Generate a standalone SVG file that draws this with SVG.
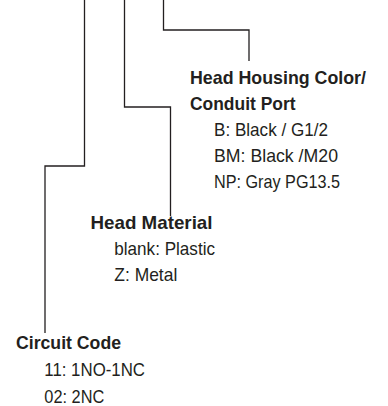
<svg xmlns="http://www.w3.org/2000/svg" width="388" height="406" viewBox="0 0 388 406">
<style>
text{font-family:"Liberation Sans",Arial,sans-serif;font-size:19px;fill:#231f20}
.h{font-weight:bold}
.c{fill:none;stroke:#231f20;stroke-width:1.3}
</style>
<rect width="388" height="406" fill="#fff"/>
<g id="connectors">
<path class="c" d="M163.5 0V30H249V61"/>
<path class="c" d="M124.5 0V107H170.5V216"/>
<path class="c" d="M84.5 0V166H45V333"/>
</g>
<g id="head-housing">
<text class="h" x="190" y="84" textLength="176" lengthAdjust="spacingAndGlyphs">Head Housing Color/</text>
<text class="h" x="190" y="110" textLength="105.5" lengthAdjust="spacingAndGlyphs">Conduit Port</text>
<text x="214" y="136" textLength="114" lengthAdjust="spacingAndGlyphs">B: Black / G1/2</text>
<text x="214" y="162" textLength="124" lengthAdjust="spacingAndGlyphs">BM: Black /M20</text>
<text x="214" y="187.5" textLength="126" lengthAdjust="spacingAndGlyphs">NP: Gray PG13.5</text>
</g>
<g id="head-material">
<text class="h" x="90.5" y="229" textLength="122" lengthAdjust="spacingAndGlyphs">Head Material</text>
<text x="114.3" y="255" textLength="100.7" lengthAdjust="spacingAndGlyphs">blank: Plastic</text>
<text x="114.3" y="281" textLength="63" lengthAdjust="spacingAndGlyphs">Z: Metal</text>
</g>
<g id="circuit-code">
<text class="h" x="16" y="349" textLength="105" lengthAdjust="spacingAndGlyphs">Circuit Code</text>
<text x="44.3" y="376" textLength="100.7" lengthAdjust="spacingAndGlyphs">11: 1NO-1NC</text>
<text x="44.3" y="402.5" textLength="60" lengthAdjust="spacingAndGlyphs">02: 2NC</text>
</g>
</svg>
